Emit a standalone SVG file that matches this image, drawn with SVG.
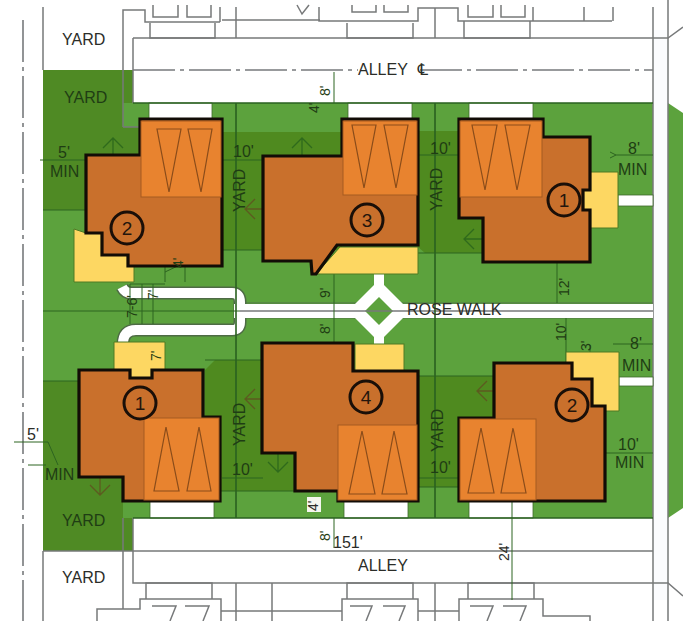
<svg xmlns="http://www.w3.org/2000/svg" width="683" height="621" viewBox="0 0 683 621">
<style>
text{font-family:"Liberation Sans",Arial,sans-serif;font-size:16px;fill:#1f3d14}
.k{fill:#2b2d28}
.s{font-size:14px}
.walk{fill:none;stroke-linecap:butt;stroke-linejoin:round}
.g{fill:none;stroke:#77797a;stroke-width:1.5}
.c{fill:none;stroke:#777a7c;stroke-width:1.6;stroke-dasharray:42 5 4 5}
.d{fill:none;stroke:#2d6420;stroke-width:1}
.D{fill:none;stroke:#2a6120;stroke-width:1.6}
.a{fill:none;stroke:#2f6a1c;stroke-width:1.3}
.ar{fill:none;stroke:#5d5a20;stroke-width:1.3}
.body{fill:#c9702c;stroke:#120c06;stroke-width:3.2;stroke-linejoin:miter;stroke-miterlimit:3}
.gar{fill:#e8832f;stroke:#a55a20;stroke-width:1}
.tri{fill:none;stroke:#8a4c1a;stroke-width:1.2}
.y{fill:#fdd762;stroke:#4f7a25;stroke-width:1}
.n{fill:none;stroke:#1a0f08;stroke-width:3}
.nt{font-size:19px;fill:#24160c;text-anchor:middle}
.dr{fill:#fff;stroke:#3f6a2c;stroke-width:.8}
</style>

<g id="ground">
<rect width="683" height="621" fill="#fff"/>
<rect x="43" y="70" width="610" height="481" fill="#5ca23d"/>
<polygon points="668,103 683,113 683,508 668,518" fill="#5ca23d"/>
<polygon points="43,70 133,70 133,103 123,103 123,127 140,127 140,155 86,155 86,210 43,210" fill="#4f8a24"/>
<polygon points="43,381 80,381 80,477 123,477 123,518 133,518 133,551 43,551" fill="#4f8a24"/>
<rect x="222" y="132" width="120" height="118" fill="#4f8a1f"/>
<polygon points="418,131 483,131 483,253 425,253 418,247" fill="#4f8a1f"/>
<polygon points="205,370 215,360 300,360 300,491 205,491" fill="#4f8a1f"/>
<rect x="418" y="376" width="76" height="111" fill="#4f8a1f"/>
<rect x="133" y="38" width="520" height="65" fill="#fff"/>
<rect x="133" y="518" width="520" height="65" fill="#fff"/>
<rect x="653" y="30" width="15" height="570" fill="#fbfcfe"/>
</g>

<g id="connectors">
<g id="site-lines">
<path class="c" d="M23,20V621"/>
<path class="g" d="M43,7V70M43,551V621M653,7V621M668,0V621"/>
<path class="g" d="M133,38H668L683,27M133,38V103M133,518V583H668L683,596"/>
<path class="g" d="M123,127H140M123,127V10H145V22H220M150,23V38H215V23M153,5V17H178V5M187,5V17H211V5M220,7V22M236,7V38M222,20H320M297,5L302,14L309,5M319,7V21H418V8H458V21H612M347,23V38H413V23M352,5V12H376V5M384,5V12H408V5M435,8V38M464,21V38H530V21M468,5V17H493V5M501,5V17H525V5M533,7V21M584,7V21M613,7V21"/>
<path class="c" d="M133,70H358M420,70H653"/>
<path class="g" d="M43,551H653M123,518V609H97V621M97,609H140V599H221V621M146,599V583H212V599M152,606H176L170,621M185,606H209L203,621M221,611H342M342,621V599H418V621M347,599V583H413V599M418,611H459M459,621V599H543V616H590V621M468,599V583H534V599M236,583V621M272,583V621M435,583V621"/>
<path class="g" d="M350,606H372L366,621M383,606H405L399,621M470,606H493L487,621M503,606H526L520,621"/>
</g>
<g id="walks">
<path class="walk" stroke="#4e6b45" stroke-width="13" d="M122,287Q125,293 131,293H232Q240,293 240,302V322Q240,330 232,330H136Q123,330 123,344"/>
<path d="M240,303H653M240,318H653" stroke="#53724b" stroke-width="1" fill="none"/>
<rect x="234" y="304" width="419" height="14" fill="#fff"/>
<path class="walk" stroke="#fff" stroke-width="10" d="M122,287Q125,293 131,293H232Q240,293 240,302V322Q240,330 232,330H136Q123,330 123,344"/>
<polygon points="379,280 410,311 379,342 348,311" fill="#fff"/>
<rect x="374" y="274" width="10" height="72" fill="#fff"/>
<polygon points="379,297 393,311 379,325 365,311" fill="#5ca23d"/>
<path class="g" d="M240,311H653" stroke-width="1"/>
<rect x="618" y="195" width="35" height="11" class="dr"/>
<rect x="619" y="377" width="34" height="9" class="dr"/>
<rect x="149" y="103" width="63" height="16" class="dr"/>
<rect x="348" y="103" width="64" height="16" class="dr"/>
<rect x="469" y="103" width="64" height="16" class="dr"/>
<rect x="150" y="501" width="64" height="17" class="dr"/>
<rect x="344" y="501" width="64" height="17" class="dr"/>
<rect x="469" y="501" width="64" height="17" class="dr"/>
</g>
<g id="property-lines">
<path class="D" d="M236,103V518M435,103V518M133,103H653M133,518H653"/>
<path class="d" d="M43,210H86M43,311H240M43,381H80M222,250H263M418,253H483M205,360H262M418,376H494M220,491H300M418,487H459"/>
</g>
<g id="dimensions">
<path class="d" d="M40,160H86M222,160H263M418,155H459M616,155H653M610,158L616,155L610,152"/>
<path class="d" d="M14,442H48L58,465M28,465H46M83,464H97M222,478H263M418,478H459M605,453H653"/>
<path class="d" d="M334,103V72M557,262V303M334,262V343M566,318V363M590,345V352M613,344H653M512,501V600"/>
<path class="d" d="M165,265V282M185,265V282M165,272L186,262M130,284V324M142,284V324M153,284V324M130,284H165M334,518V548"/>
</g>
<g id="arrows">
<path class="a" d="M113,170V138M103,148L113,138L123,148"/>
<path class="a" d="M302,172V138M292,148L302,138L312,148"/>
<path class="ar" d="M282,209H245M255,199L245,209L255,219"/>
<path class="a" d="M501,239H464M474,229L464,239L474,249"/>
<path class="ar" d="M100,460V495M90,485L100,495L110,485"/>
<path class="ar" d="M280,399H245M255,389L245,399L255,409"/>
<path class="a" d="M278,435V472M268,462L278,472L288,462"/>
<path class="ar" d="M510,391H477M487,381L477,391L487,401"/>
</g>
</g>

<g id="house-2-top">
<polygon class="y" points="74,229 74,282 134,282 134,266 128,266 128,255 102,255 102,233 86,233"/>
<polygon class="body" points="140,119 222,119 222,266 128,266 128,255 102,255 102,233 86,233 86,155 140,155"/>
<rect class="gar" x="141" y="121" width="80" height="76"/>
<path class="tri" d="M157,129H181L169,192ZM188,129H212L201,192Z"/>
<circle class="n" cx="127" cy="228" r="16"/><text class="nt" x="127" y="235">2</text>
</g>

<g id="house-3">
<polygon class="y" points="316,274 340,247 418,247 418,274"/>
<polygon class="body" points="342,119 418,119 418,245 337,245 316,274 312,274 311,261 263,261 263,156 342,156"/>
<rect class="gar" x="343" y="121" width="74" height="74"/>
<path class="tri" d="M352,125H376L364,188ZM384,125H408L396,188Z"/>
<circle class="n" cx="367" cy="220" r="16"/><text class="nt" x="367" y="227">3</text>
</g>

<g id="house-1-top">
<polygon class="y" points="590,172 618,172 618,228 590,228 590,210 583,210 583,190 590,190"/>
<polygon class="body" points="459,119 543,119 543,137 590,137 590,190 583,190 583,210 590,210 590,262 483,262 483,218 459,218"/>
<rect class="gar" x="460" y="121" width="82" height="76" stroke="none"/>
<path class="tri" d="M472,125H497L485,190ZM505,125H530L517,190Z"/>
<circle class="n" cx="564" cy="200" r="16"/><text class="nt" x="564" y="207">1</text>
</g>

<g id="house-1-bottom">
<polygon class="y" points="114,342 165,342 165,370 152,370 152,378 130,378 130,370 114,370"/>
<polygon class="body" points="79,370 130,370 130,378 152,378 152,370 203,370 203,417 220,417 220,501 123,501 123,477 79,477"/>
<rect class="gar" x="144" y="418" width="75" height="82"/>
<path class="tri" d="M154,491H179L166,427ZM187,491H211L199,427Z"/>
<circle class="n" cx="140" cy="403" r="16"/><text class="nt" x="140" y="410">1</text>
</g>

<g id="house-4">
<rect class="y" x="355" y="344" width="49" height="27"/>
<polygon class="body" points="262,343 353,343 353,371 418,371 418,501 338,501 338,491 295,491 295,453 262,453"/>
<rect class="gar" x="338" y="425" width="79" height="75"/>
<path class="tri" d="M349,494H375L362,431ZM382,494H407L394,431Z"/>
<circle class="n" cx="366" cy="397" r="16"/><text class="nt" x="366" y="404">4</text>
</g>

<g id="house-2-bottom">
<polygon class="y" points="566,352 619,352 619,411 592,411 592,379 572,379 572,363 566,363"/>
<polygon class="body" points="459,418 494,418 494,363 572,363 572,379 592,379 592,406 605,406 605,501 459,501"/>
<rect class="gar" x="460" y="419" width="76" height="81"/>
<path class="tri" d="M468,493H494L481,428ZM501,493H526L513,428Z"/>
<circle class="n" cx="572" cy="405" r="16"/><text class="nt" x="572" y="412">2</text>
</g>

<g id="labels">
<text class="k" x="62" y="45">YARD</text>
<text x="64" y="103">YARD</text>
<text class="k" x="358" y="75">ALLEY<tspan dx="10" style="font-family:'DejaVu Sans',sans-serif">℄</tspan></text>
<text class="k" x="407" y="315">ROSE WALK</text>
<text class="k" x="358" y="571">ALLEY</text>
<text x="62" y="526">YARD</text>
<text class="k" x="62" y="583">YARD</text>
<text x="58" y="158">5'</text>
<text x="50" y="177">MIN</text>
<text x="233" y="157">10'</text>
<text x="430" y="154">10'</text>
<text x="628" y="154">8'</text>
<text x="618" y="175">MIN</text>
<text class="k" x="27" y="440">5'</text>
<text x="45" y="480">MIN</text>
<text x="232" y="475">10'</text>
<text x="430" y="473">10'</text>
<text x="630" y="349">8'</text>
<text x="622" y="371">MIN</text>
<text x="618" y="450">10'</text>
<text x="615" y="468">MIN</text>
<text class="k" x="333" y="548">151'</text>
<text transform="translate(245,212) rotate(-90)">YARD</text>
<text transform="translate(442,211) rotate(-90)">YARD</text>
<text transform="translate(245,446) rotate(-90)">YARD</text>
<text transform="translate(443,452) rotate(-90)">YARD</text>
<text class="s" transform="translate(569,296) rotate(-90)">12'</text>
<text class="s" transform="translate(566,341) rotate(-90)">10'</text>
<text class="s" transform="translate(591,351) rotate(-90)">3'</text>
<text class="s" transform="translate(330,298) rotate(-90)">9'</text>
<text class="s" transform="translate(330,334) rotate(-90)">8'</text>
<text class="s" transform="translate(330,96) rotate(-90)">8'</text>
<text class="s" transform="translate(319,113) rotate(-90)">4'</text>
<text class="s" transform="translate(330,541) rotate(-90)">8'</text>
<text class="s k" transform="translate(509,561) rotate(-90)">24'</text>
<text class="s" transform="translate(183,268) rotate(-90)">4'</text>
<text class="s" transform="translate(137,318) rotate(-90)">7-6'</text>
<text class="s" transform="translate(158,300) rotate(-90)">7'</text>
<text class="s" transform="translate(161,361) rotate(-90)">7'</text>
<rect x="307" y="497" width="14" height="15" fill="#f4f6ee"/>
<text class="s k" transform="translate(318,511) rotate(-90)">4'</text>
</g>
</svg>
